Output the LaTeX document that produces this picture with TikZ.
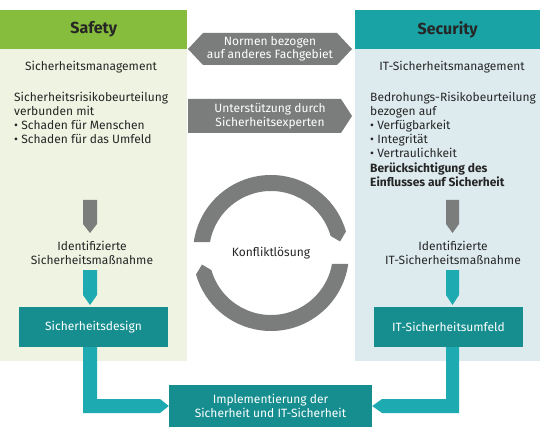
\documentclass[tikz,border=0pt]{standalone}
\usepackage{fontspec}
\setmainfont{Fira Sans}
\usetikzlibrary{calc}
\definecolor{safegreen}{HTML}{87BD3C}
\definecolor{safebg}{HTML}{EEF3E2}
\definecolor{sechead}{HTML}{1AA3A5}
\definecolor{secbg}{HTML}{DDEBEF}
\definecolor{arrgray}{HTML}{7B7C7C}
\definecolor{boxteal}{HTML}{168E8F}
\definecolor{arrteal}{HTML}{1DAAB1}
\definecolor{txt}{HTML}{262626}
\tikzset{
  body/.style={font=\fontsize{12}{14.2}\selectfont, text=txt, inner sep=0pt},
  oneline/.style={body, text height=9pt, text depth=3pt},
  head/.style={font=\bfseries\fontsize{16}{19}\selectfont, text=txt, inner sep=0pt},
  whitetext/.style={font=\fontsize{12}{13.5}\selectfont, text=white, inner sep=0pt, align=center},
  tealbox/.style={whitetext, fill=boxteal, font=\fontsize{12}{14}\selectfont},
}
\begin{document}
\begin{tikzpicture}[x=1pt,y=1pt]
\useasboundingbox (0,0) rectangle (540,434);
\fill[white] (0,0) rectangle (540,434);
% panels
\fill[safebg] (0,73) rectangle (187,385);
\fill[secbg] (355,73) rectangle (540,385);
\node[head, fill=safegreen, minimum width=187pt, minimum height=39pt, anchor=south west] (safety) at (0,385) {Safety};
\node[head, fill=sechead, minimum width=185pt, minimum height=39pt, anchor=south west] (security) at (355,385) {Security};
% left texts
\node[oneline] (smgmt) at (91,366) {Sicherheitsmanagement};
\node[body, align=left, anchor=north west] (srisk) at (14,342.5)
  {Sicherheitsrisikobeurteilung\\verbunden mit\\• Schaden für Menschen\\• Schaden für das Umfeld};
% right texts
\node[oneline] (itmgmt) at (452,366) {IT-Sicherheitsmanagement};
\node[body, align=left, anchor=north west] (brisk) at (370,342.5)
  {Bedrohungs-Risikobeurteilung\\bezogen auf\\• Verfügbarkeit\\• Integrität\\• Vertraulichkeit\\\textbf{Berücksichtigung des}\\\textbf{Einflusses auf Sicherheit}};
% middle gray arrows
\fill[arrgray] (188,385) -- (203,401) -- (337,401) -- (352,385) -- (337,369) -- (203,369) -- cycle;
\node[whitetext] (normen) at (270,385) {Normen bezogen\\auf anderes Fachgebiet};
\fill[arrgray] (188,335) -- (341,335) -- (352,318) -- (341,301) -- (188,301) -- cycle;
\node[whitetext] (unterst) at (270,318) {Unterstützung durch\\Sicherheitsexperten};
% identified measures
\node[body, align=center] (idleft) at (92,181.5) {Identifizierte\\Sicherheitsmaßnahme};
\node[body, align=center] (idright) at (453,181.5) {Identifizierte\\IT-Sicherheitsmaßnahme};
% down arrows
\fill[arrgray] (83,234) -- (97,234) -- (97,210) -- (90,201) -- (83,210) -- cycle;
\fill[arrgray] (446,234) -- (459,234) -- (459,210) -- (452.5,201) -- (446,210) -- cycle;
\fill[arrteal] (83,164) -- (97,164) -- (97,139) -- (90,129) -- (83,139) -- cycle;
\fill[arrteal] (446,164) -- (459,164) -- (459,139) -- (452.5,129) -- (446,139) -- cycle;
% boxes
\node[tealbox, minimum width=149pt, minimum height=40pt] (design) at (93.5,107) {Sicherheitsdesign};
\node[tealbox, minimum width=149pt, minimum height=40pt] (umfeld) at (448.5,107) {IT-Sicherheitsumfeld};
\node[tealbox, minimum width=203pt, minimum height=42pt] (impl) at (270.5,28) {Implementierung der\\Sicherheit und IT-Sicherheit};
% connectors
\fill[arrteal] (83,87) -- (97,87) -- (97,35) -- (160,35) -- (impl.west) -- (160,21) -- (83,21) -- cycle;
\fill[arrteal] (459,87) -- (446,87) -- (446,35) -- (382,35) -- (impl.east) -- (382,21) -- (459,21) -- cycle;
% ring
\coordinate (c) at (271,181);
\fill[arrgray] ($(c)+(172:78pt)$) arc[start angle=172, end angle=16, radius=78pt]
  -- ($(c)+(9.5:70pt)$) -- ($(c)+(16:62pt)$) arc[start angle=16, end angle=170, radius=62pt] -- cycle;
\fill[arrgray] ($(c)+(-8:78pt)$) arc[start angle=-8, end angle=-164, radius=78pt]
  -- ($(c)+(-170.5:70pt)$) -- ($(c)+(-164:62pt)$) arc[start angle=-164, end angle=-10, radius=62pt] -- cycle;
\node[oneline] (konflikt) at (c) {Konfliktlösung};
\end{tikzpicture}
\end{document}
